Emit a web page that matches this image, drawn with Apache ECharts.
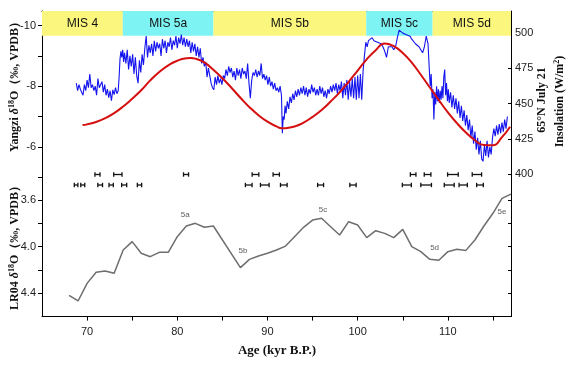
<!DOCTYPE html>
<html><head><meta charset="utf-8">
<script src="https://cdn.jsdelivr.net/npm/echarts@6/dist/echarts.min.js"></script>
<style>html,body{margin:0;padding:0;background:#fff}#c{width:569px;height:366px}</style>
</head><body><div id="c"></div>
<script>
// ---------- DATA ----------
const misNames = ['MIS 4', 'MIS 5a', 'MIS 5b', 'MIS 5c', 'MIS 5d'];
const misStart = [65, 73.96, 84.01, 100.95, 108.31];
const misEnd   = [73.96, 84.01, 100.95, 108.31, 117];

const yangziAge = [
68.8,68.95,69.1,69.25,69.4,69.55,69.7,69.85,70.0,70.15,70.3,70.45,70.6,70.75,70.9,71.05,71.2,71.35,71.5,71.65,71.8,71.95,72.1,72.25,72.4,72.55,72.7,72.85,73.0,73.15,73.3,73.45,
73.55,73.65,73.75,73.85,73.95,74.05,74.15,74.3,74.45,74.6,74.75,74.9,75.05,75.2,75.35,75.5,75.65,75.8,75.95,76.1,76.25,76.4,76.55,76.7,76.85,77.0,77.15,77.3,77.45,77.6,77.75,77.9,78.05,78.2,78.35,78.5,78.65,78.8,78.95,79.1,79.25,79.4,79.55,79.7,79.85,80.0,80.15,80.3,80.45,80.6,80.75,80.9,81.05,81.2,81.35,81.5,81.65,81.8,81.95,82.1,82.25,82.4,82.55,82.7,82.85,83.0,83.15,83.3,83.45,
83.6,83.75,83.9,84.05,84.2,84.35,84.5,84.65,84.8,84.95,85.1,85.25,85.4,85.55,85.7,85.85,86.0,86.15,86.3,86.45,86.6,86.75,86.9,87.05,87.2,87.35,87.5,87.65,87.8,87.95,88.1,88.25,88.4,88.55,88.7,88.85,89.0,89.15,89.3,89.45,89.6,89.75,89.9,90.05,90.2,90.35,90.5,90.65,90.8,90.95,91.1,91.25,91.4,91.55,91.65,91.75,91.85,91.95,92.05,92.2,92.35,92.5,92.65,92.8,92.95,93.1,93.25,93.4,93.55,93.7,93.85,94.0,94.15,94.3,94.45,94.6,94.75,94.9,95.05,95.2,95.35,95.5,95.65,95.8,95.95,96.1,96.25,96.4,96.55,96.7,96.85,97.0,97.15,97.3,97.45,97.6,97.75,97.9,98.05,98.2,98.35,98.5,98.65,98.8,98.95,99.1,99.25,99.4,99.55,99.7,99.85,100.0,100.15,100.3,100.45,100.6,100.75,100.9,
101.05,101.2,101.4,101.6,101.8,102.0,102.2,102.4,102.6,102.8,103.0,103.2,103.4,103.6,103.8,104.0,104.2,104.4,104.6,104.8,105.0,105.2,105.4,105.6,105.8,106.0,106.2,106.4,106.6,106.8,107.0,107.2,107.4,107.6,107.8,107.95,108.05,108.15,108.25,108.35,108.45,108.55,
108.65,108.75,108.85,108.95,109.05,109.15,109.25,109.35,109.45,109.55,109.65,109.75,109.85,109.95,110.05,110.15,110.3,110.45,110.6,110.75,110.9,111.05,111.2,111.35,111.5,111.65,111.8,111.95,112.1,112.25,112.4,112.55,112.7,112.85,113.0,113.15,113.3,113.45,113.6,113.75,113.9,114.05,114.2,114.35,114.5,114.65,114.8,114.95,115.1,115.25,115.4,115.55,115.7,115.85,116.0,116.15,116.3,116.45,116.6
];
const yangziD18O = [
-8.10,-7.85,-8.05,-7.90,-7.95,-7.70,-8.05,-7.85,-8.20,-7.95,-8.40,-7.95,-8.05,-7.85,-8.00,-7.70,-8.25,-7.95,-7.90,-8.15,-7.80,-8.05,-7.70,-7.90,-7.62,-7.85,-7.52,-7.88,-7.72,-7.95,-7.75,-7.85,
-8.30,-8.90,-9.15,-8.95,-9.20,-8.80,-9.10,-8.75,-9.20,-8.55,-9.00,-8.65,-9.05,-8.40,-8.95,-8.35,-8.10,-8.85,-8.45,-9.05,-8.70,-9.25,-9.65,-8.95,-9.35,-9.10,-9.40,-9.00,-9.50,-9.15,-9.45,-9.25,-9.40,-9.00,-9.55,-9.25,-9.50,-9.10,-9.45,-9.30,-9.60,-9.20,-9.50,-9.35,-9.65,-9.25,-9.60,-9.40,-9.70,-9.35,-9.60,-9.30,-9.55,-9.30,-9.50,-9.10,-9.45,-9.15,-9.40,-9.00,-9.30,-8.95,-9.25,-8.75,-8.95,-8.65,-8.80,-8.30,-8.60,
-8.35,-8.10,-7.95,-7.88,-8.30,-8.05,-8.35,-8.10,-8.25,-8.05,-8.35,-8.25,-8.55,-8.35,-8.65,-8.45,-8.60,-8.30,-8.50,-8.20,-8.60,-8.35,-8.55,-8.25,-8.60,-8.40,-8.50,-8.25,-8.75,-8.10,-7.60,-8.20,-8.45,-8.35,-8.55,-8.30,-8.50,-8.35,-8.75,-8.25,-8.40,-8.20,-8.35,-8.05,-8.30,-8.00,-8.15,-7.90,-8.10,-7.85,-7.95,-7.80,-8.00,-7.70,-6.45,-7.00,-6.90,-7.35,-7.10,-7.50,-7.25,-7.65,-7.45,-7.75,-7.55,-7.85,-7.65,-7.90,-7.70,-7.95,-7.75,-8.00,-7.70,-7.95,-7.65,-7.90,-7.75,-8.05,-7.80,-7.95,-7.70,-7.90,-7.70,-8.00,-7.75,-7.95,-7.65,-7.85,-7.60,-7.90,-7.75,-8.00,-7.80,-8.05,-7.85,-8.10,-7.75,-8.05,-7.85,-8.15,-7.60,-8.10,-7.70,-8.20,-7.55,-8.15,-7.65,-8.25,-7.60,-8.30,-7.55,-8.35,-7.60,-8.40,-7.55,-8.50,-9.00,-9.45,
-9.30,-9.50,-9.45,-9.60,-9.50,-9.55,-9.45,-9.50,-9.40,-9.30,-9.15,-8.95,-9.30,-9.25,-9.30,-9.20,-9.30,-9.60,-9.85,-9.80,-9.75,-9.80,-9.70,-9.75,-9.65,-9.55,-9.60,-9.40,-9.45,-9.30,-9.35,-9.10,-9.30,-9.65,-9.40,-8.50,-8.00,-8.40,-7.60,-7.90,-6.90,-7.80,
-7.40,-8.00,-7.50,-7.90,-7.45,-7.85,-7.55,-8.00,-7.60,-8.30,-8.55,-7.70,-8.10,-7.50,-7.90,-7.45,-7.80,-7.30,-7.70,-7.25,-7.60,-7.10,-7.50,-6.95,-7.35,-6.85,-7.20,-6.70,-7.05,-6.55,-6.90,-6.30,-6.70,-6.10,-6.50,-5.90,-6.30,-5.75,-6.20,-5.60,-5.52,-6.05,-5.70,-6.20,-5.65,-6.00,-5.75,-6.30,-6.60,-6.35,-6.70,-6.40,-6.75,-6.45,-6.80,-6.50,-6.90,-6.60,-7.00
];

const insoAge = [69.5,70,71,72,73,74,75,76,77,78,79,80,81,81.5,82,83,84,85,86,87,88,89,90,91,91.6,92,93,94,95,96,97,98,99,100,101,102,103,104,105,106,107,108,109,110,111,112,113,114,115,116,116.9];
const insoVal = [434.8,435.3,437.0,439.7,443.3,448.0,453.5,459.5,466.5,472.5,477.2,480.5,482.2,482.4,482.0,479.3,474.0,468.0,461.3,454.2,447.5,441.8,437.2,433.8,432.5,432.6,433.8,436.5,440.6,445.5,451.5,458.0,465.5,473.5,481.5,488.0,492.8,490.8,486.0,479.2,470.5,461.5,452.5,443.8,436.2,429.5,424.0,420.6,420.4,426.2,433.6];

const lr04Age = [68,69,70,71,72,73,74,75,76,77,78,79,80,81,82,83,84,87,88,89,90,91,92,93,94,95,96,97,98,99,100,101,102,103,104,105,106,107,108,109,110,111,112,113,114,115,116,117];
const lr04Val = [4.417,4.466,4.315,4.22,4.209,4.229,4.029,3.957,4.057,4.086,4.049,4.049,3.915,3.823,3.80,3.834,3.823,4.18,4.109,4.08,4.057,4.029,3.995,3.915,3.834,3.772,3.757,3.829,3.90,3.786,3.814,3.923,3.863,3.886,3.923,3.852,4.0,4.043,4.109,4.117,4.043,4.023,4.032,3.943,3.823,3.714,3.586,3.549];

const subNames = ['5a', '5b', '5c', '5d', '5e'];
const subAge = [80.87, 87.28, 96.15, 108.53, 116.01];
const subVal = [3.723, 4.037, 3.68, 4.009, 3.705];

const row1Age = [71.15, 73.41, 80.97, 88.67, 90.97, 106.15, 107.75, 110.56, 113.22];
const row1Err = [0.28, 0.46, 0.28, 0.37, 0.35, 0.31, 0.37, 0.59, 0.52];
const row2Age = [68.78, 69.52, 71.45, 72.67, 74.11, 75.81, 87.92, 89.70, 91.81, 95.89, 99.48, 105.45, 107.59, 110.15, 111.7, 113.56];
const row2Err = [0.2, 0.22, 0.26, 0.24, 0.28, 0.24, 0.37, 0.48, 0.37, 0.33, 0.35, 0.5, 0.59, 0.55, 0.46, 0.37];

const xTicks = [70, 75, 80, 85, 90, 95, 100, 105, 110, 115];
const xLabels = [70, 80, 90, 100, 110];
const yUpTicks = [-10, -9, -8, -7, -6, -5];
const yUpLabels = [-10, -8, -6];
const insoTicks = [400, 425, 450, 475, 500];
const lrTicks = [3.6, 3.8, 4.0, 4.2, 4.4];
const lrLabels = [3.6, 4.0, 4.4];

// ---------- CHART ----------
const misColors = ['#FAF67E', '#7EF3F3', '#FAF67E', '#7EF3F3', '#FAF67E'];
const axisCol = '#000';
const lblStyle = {color: '#222', fontSize: 11, fontFamily: 'Liberation Sans, Arial, sans-serif'};
const serifB = 'bold 12px "Liberation Serif", "Times New Roman", serif';

const chart = echarts.init(document.getElementById('c'), null, {renderer: 'canvas'});

function errItem(params, api) {
  const x = api.value(0), e = api.value(1), r = api.value(2);
  const a = api.coord([x - e, r]), b = api.coord([x + e, r]);
  const h = 2.2, st = {stroke: '#111', lineWidth: 1.3};
  return {type: 'group', children: [
    {type: 'line', shape: {x1: a[0], y1: a[1], x2: b[0], y2: b[1]}, style: st},
    {type: 'line', shape: {x1: a[0], y1: a[1] - h, x2: a[0], y2: a[1] + h}, style: st},
    {type: 'line', shape: {x1: b[0], y1: b[1] - h, x2: b[0], y2: b[1] + h}, style: st}
  ]};
}

const errData = row1Age.map((a, i) => [a, row1Err[i], 0]).concat(row2Age.map((a, i) => [a, row2Err[i], 1]));

const option = {
  animation: false,
  backgroundColor: '#fff',
  grid: [
    {left: 42, right: 58, top: 11, height: 167},
    {left: 42, right: 58, top: 176.7, height: 139.9},
    {left: 42, right: 58, top: 169.25, height: 21}
  ],
  xAxis: [
    {gridIndex: 0, type: 'value', position: 'top', min: 65, max: 117,
     axisLine: {show: true, onZero: false, lineStyle: {color: axisCol, width: 1}}, axisTick: {show: false}, axisLabel: {show: false}, splitLine: {show: false}},
    {gridIndex: 1, type: 'value', position: 'bottom', min: 65, max: 117,
     axisLine: {show: true, onZero: false, lineStyle: {color: axisCol, width: 1}},
     axisTick: {show: true, length: 4, customValues: xTicks, lineStyle: {color: axisCol}},
     axisLabel: Object.assign({customValues: xLabels, margin: 10}, lblStyle), splitLine: {show: false}},
    {gridIndex: 2, type: 'value', min: 65, max: 117, show: false}
  ],
  yAxis: [
    {gridIndex: 0, type: 'value', position: 'left', inverse: true, min: -10.48, max: -4.97,
     axisLine: {show: true, onZero: false, lineStyle: {color: axisCol}},
     axisTick: {show: true, length: 4, customValues: yUpTicks, lineStyle: {color: axisCol}},
     axisLabel: Object.assign({customValues: yUpLabels, margin: 6}, lblStyle), splitLine: {show: false}},
    {gridIndex: 0, type: 'value', position: 'right', min: 397.2, max: 515.8,
     axisLine: {show: true, onZero: false, lineStyle: {color: axisCol}},
     axisTick: {show: true, inside: true, length: 3, customValues: insoTicks, lineStyle: {color: axisCol}},
     axisLabel: Object.assign({customValues: insoTicks, margin: 4}, lblStyle), splitLine: {show: false}},
    {gridIndex: 1, type: 'value', position: 'left', inverse: true, min: 3.4, max: 4.6,
     axisLine: {show: true, onZero: false, lineStyle: {color: axisCol}},
     axisTick: {show: true, length: 4, customValues: lrTicks, lineStyle: {color: axisCol}},
     axisLabel: Object.assign({customValues: lrLabels, margin: 6, formatter: v => Number(v).toFixed(1)}, lblStyle), splitLine: {show: false}},
    {gridIndex: 1, type: 'value', position: 'right', inverse: true, min: 3.4, max: 4.6,
     axisLine: {show: true, onZero: false, lineStyle: {color: axisCol}},
     axisTick: {show: true, inside: true, length: 3, customValues: lrTicks, lineStyle: {color: axisCol}},
     axisLabel: {show: false}, splitLine: {show: false}},
    {gridIndex: 2, type: 'category', inverse: true, data: ['row1', 'row2'], show: false}
  ],
  series: [
    {name: 'bands', type: 'line', xAxisIndex: 0, yAxisIndex: 0, data: [], z: 1, silent: true,
     markArea: {silent: true,
       label: {show: true, position: 'inside', color: '#111', fontSize: 12, fontFamily: 'Liberation Sans, Arial, sans-serif'},
       data: misNames.map((n, i) => [
         {name: n, xAxis: misStart[i], yAxis: -10.48, itemStyle: {color: misColors[i], opacity: 1}},
         {xAxis: misEnd[i], yAxis: -9.66}
       ])}},
    {name: 'Yangzi', type: 'line', xAxisIndex: 0, yAxisIndex: 0, z: 3, showSymbol: false, symbol: 'none',
     lineStyle: {color: '#1414EE', width: 1.1}, data: yangziAge.map((a, i) => [a, yangziD18O[i]])},
    {name: 'Insolation', type: 'line', xAxisIndex: 0, yAxisIndex: 1, z: 4, smooth: true, showSymbol: false, symbol: 'none',
     lineStyle: {color: '#D50F0F', width: 2}, data: insoAge.map((a, i) => [a, insoVal[i]])},
    {name: 'LR04', type: 'line', xAxisIndex: 1, yAxisIndex: 2, z: 3, showSymbol: false, symbol: 'none',
     lineStyle: {color: '#6E6E6E', width: 1.5}, data: lr04Age.map((a, i) => [a, lr04Val[i]])},
    {name: 'sub', type: 'scatter', xAxisIndex: 1, yAxisIndex: 2, symbolSize: 1, itemStyle: {color: 'rgba(0,0,0,0)'},
     label: {show: true, position: 'inside', formatter: p => p.name, color: '#333', fontSize: 8, fontFamily: 'Liberation Sans, Arial, sans-serif'},
     data: subNames.map((n, i) => ({name: n, value: [subAge[i], subVal[i]]}))},
    {name: 'errors', type: 'custom', xAxisIndex: 2, yAxisIndex: 4, renderItem: errItem, data: errData, z: 5}
  ],
  graphic: [
    {type: 'text', x: 15, y: 84, rotation: Math.PI / 2, style: {
      text: '{b|Yangzi }{i|δ}{s|18}{b|O（‰, VPDB）}', align: 'center', verticalAlign: 'middle', fill: '#111',
      rich: {b: {font: serifB, fill: '#111'}, i: {font: 'italic bold 12px "Liberation Serif", serif', fill: '#111'},
             s: {font: 'bold 8px "Liberation Serif", serif', fill: '#111', verticalAlign: 'top', padding: [0, 0, 6, 0]}}}},
    {type: 'text', x: 15, y: 245, rotation: Math.PI / 2, style: {
      text: '{b|LR04 }{i|δ}{s|18}{b|O（‰, VPDB）}', align: 'center', verticalAlign: 'middle', fill: '#111',
      rich: {b: {font: serifB, fill: '#111'}, i: {font: 'italic bold 12px "Liberation Serif", serif', fill: '#111'},
             s: {font: 'bold 8px "Liberation Serif", serif', fill: '#111', verticalAlign: 'top', padding: [0, 0, 6, 0]}}}},
    {type: 'text', x: 542, y: 100, rotation: Math.PI / 2, style: {
      text: '65°N July 21', align: 'center', verticalAlign: 'middle', font: serifB, fill: '#111'}},
    {type: 'text', x: 559.5, y: 101.5, rotation: Math.PI / 2, style: {
      text: '{b|Insolation (W/m}{s|2}{b|)}', align: 'center', verticalAlign: 'middle', fill: '#111',
      rich: {b: {font: serifB, fill: '#111'}, s: {font: 'bold 8px "Liberation Serif", serif', fill: '#111', verticalAlign: 'top', padding: [0, 0, 6, 0]}}}},
    {type: 'text', x: 277, y: 351, style: {
      text: 'Age (kyr B.P.)', align: 'center', verticalAlign: 'middle', font: 'bold 13px "Liberation Serif", "Times New Roman", serif', fill: '#111'}}
  ]
};
chart.setOption(option);
</script>
</body></html>
